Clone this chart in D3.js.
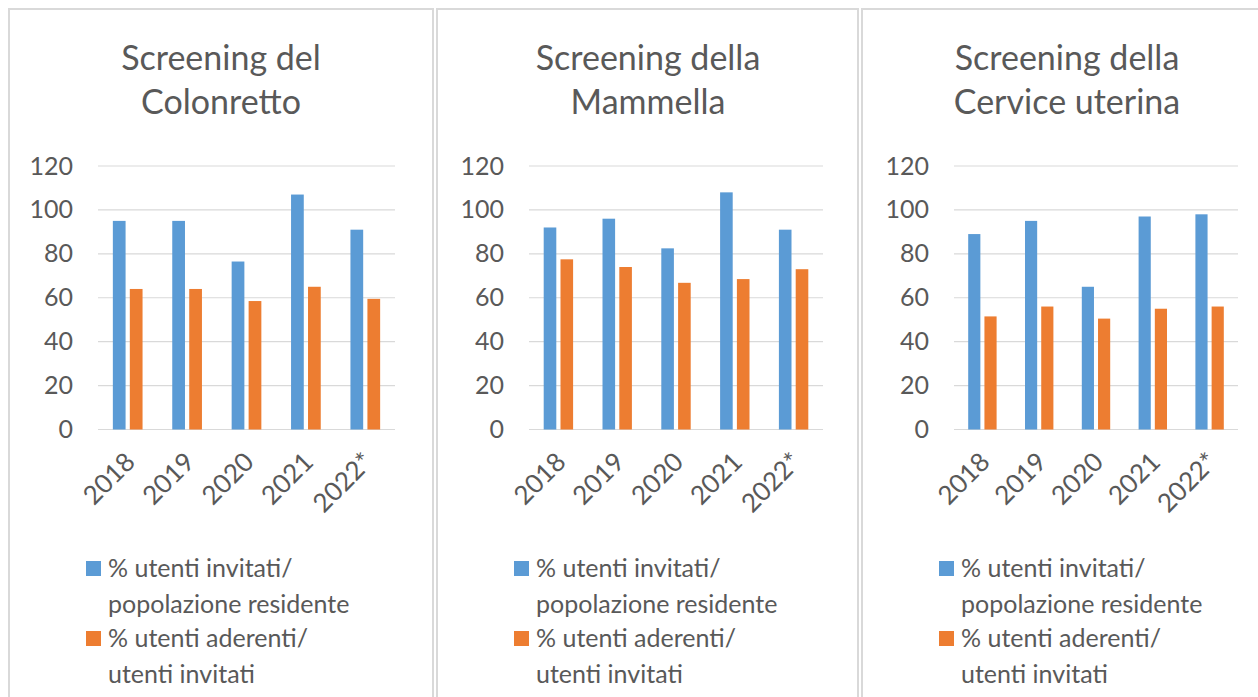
<!DOCTYPE html>
<html>
<head>
<meta charset="utf-8">
<script src="https://cdn.jsdelivr.net/npm/d3@7"></script>
<style>
  html, body { margin: 0; padding: 0; background: #fff; }
  svg { display: block; }
  text { font-family: Lato, "Open Sans", sans-serif; fill: #595959; }
</style>
</head>
<body>
<svg id="chart" width="1258" height="697"></svg>
<script>
// ---- Data ----
const years = ["2018", "2019", "2020", "2021", "2022*"];
const seriesNames = [
  ["% utenti invitati/", "popolazione residente"],
  ["% utenti aderenti/", "utenti invitati"]
];
const panelTitles = [
  ["Screening del", "Colonretto"],
  ["Screening della", "Mammella"],
  ["Screening della", "Cervice uterina"]
];
const colonInvitati = [95, 95, 76.5, 107, 91];
const colonAderenti = [64, 64, 58.5, 65, 59.5];
const mammellaInvitati = [92, 96, 82.5, 108, 91];
const mammellaAderenti = [77.5, 74, 66.8, 68.5, 73];
const cerviceInvitati = [89, 95, 65, 97, 98];
const cerviceAderenti = [51.5, 56, 50.5, 55, 56];
const yTicks = [0, 20, 40, 60, 80, 100, 120];

const panelData = [
  [colonInvitati, colonAderenti],
  [mammellaInvitati, mammellaAderenti],
  [cerviceInvitati, cerviceAderenti]
];

// ---- Layout ----
const colors = ["#5B9BD5", "#ED7D31"];
const panels = [
  { left: 9,   right: 433,  plotL: 98,  plotR: 395, titleX: 221 },
  { left: 437, right: 858,  plotL: 529, plotR: 823, titleX: 648 },
  { left: 862, right: 1270, plotL: 954, plotR: 1238, titleX: 1067 }
];
const yTop = 166, yBottom = 429.5;

const svg = d3.select("#chart");
const y = d3.scaleLinear().domain([0, 120]).range([yBottom, yTop]);

panels.forEach((p, i) => {
  const g = svg.append("g");
  g.append("rect")
    .attr("x", p.left).attr("y", 9)
    .attr("width", p.right - p.left).attr("height", 720)
    .attr("fill", "#fff").attr("stroke", "#d9d9d9").attr("stroke-width", 2);

  const title = g.append("text").attr("text-anchor", "middle")
    .style("font-size", "34px");
  panelTitles[i].forEach((line, k) => {
    title.append("tspan").attr("x", p.titleX).attr("y", 70 + k * 44).text(line);
  });

  g.append("g").selectAll("line").data(yTicks).join("line")
    .attr("x1", p.plotL).attr("x2", p.plotR)
    .attr("y1", d => y(d)).attr("y2", d => y(d))
    .attr("stroke", "#d9d9d9").attr("stroke-width", 1.2);

  const yAxis = d3.axisLeft(y).tickValues(yTicks).tickSize(0).tickPadding(0);
  const ya = g.append("g").attr("transform", `translate(${p.plotL - 25},0)`).call(yAxis);
  ya.select(".domain").remove();
  ya.selectAll("text").style("font-size", "25px")
    .style("font-family", "Lato, 'Open Sans', sans-serif").attr("fill", "#595959");

  const x0 = d3.scaleBand().domain(years).range([p.plotL, p.plotR])
    .paddingInner(0.5).paddingOuter(0.25);
  const x1 = d3.scaleBand().domain([0, 1]).range([0, x0.bandwidth()]).paddingInner(0.25);

  const groups = g.append("g").selectAll("g").data(years).join("g")
    .attr("transform", d => `translate(${x0(d)},0)`);
  groups.selectAll("rect").data((d, j) => [0, 1].map(s => ({ s, v: panelData[i][s][j] })))
    .join("rect")
    .attr("x", d => x1(d.s)).attr("width", x1.bandwidth())
    .attr("y", d => y(d.v)).attr("height", d => y(0) - y(d.v))
    .attr("fill", d => colors[d.s]);

  g.append("g").selectAll("text").data(years).join("text")
    .attr("text-anchor", "end")
    .attr("transform", d => `translate(${x0(d) + x0.bandwidth() / 2 + 9},${yBottom + 34}) rotate(-45)`)
    .style("font-size", "26px")
    .text(d => d);

  const lx = p.left + 77;
  seriesNames.forEach((lines, s) => {
    const ly = 561 + s * 70;
    g.append("rect").attr("x", lx).attr("y", ly).attr("width", 15).attr("height", 15)
      .attr("fill", colors[s]);
    lines.forEach((t, k) => {
      g.append("text").attr("x", lx + 22).attr("y", ly + 16 + k * 36)
        .style("font-size", "25px").text(t);
    });
  });
});
</script>
</body>
</html>
